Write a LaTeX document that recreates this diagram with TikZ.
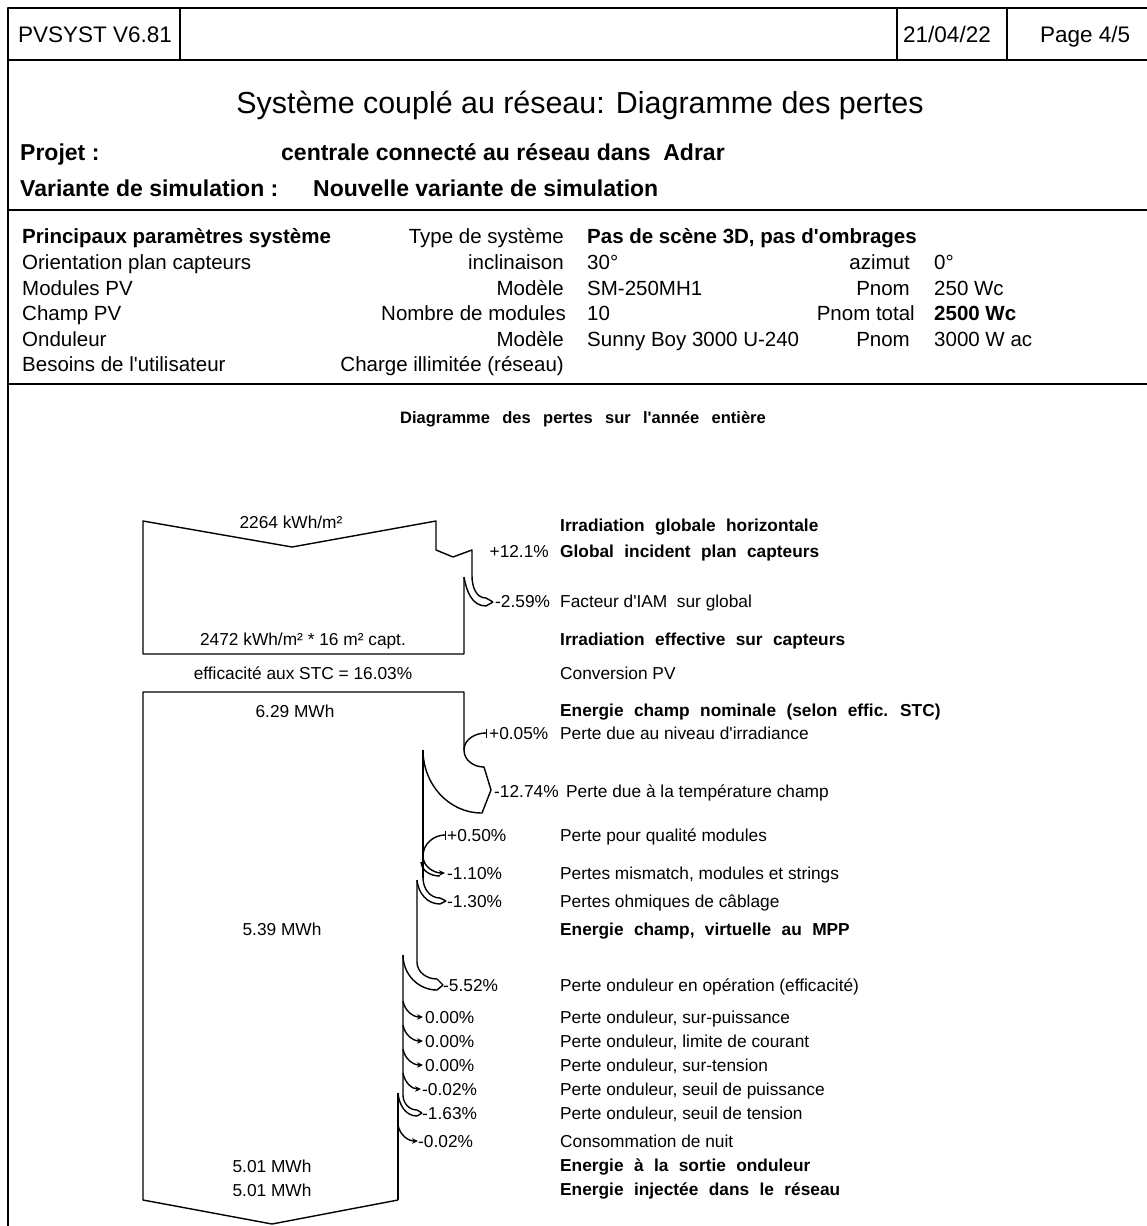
\documentclass[tikz,border=0pt]{standalone}
\usepackage{fontspec}
\setmainfont{Liberation Sans}[Ligatures=TeXOff]
\usetikzlibrary{arrows.meta}

\newcommand{\widesp}{\spaceskip=0.6em plus 0.1em\relax}
\newcommand{\titlesp}{\spaceskip=0.75em\relax}

\begin{document}
\begin{tikzpicture}[x=1pt,y=-1pt,>={Stealth[length=6pt,width=5.5pt]},line join=round,
    every node/.style={inner sep=0pt,text depth=0pt},
    hdr/.style={font=\fontsize{22.5}{26}\selectfont,text height=16.1pt},
    head/.style={font=\fontsize{23}{27}\selectfont\bfseries,text height=16.5pt,anchor=west},
    par/.style={font=\fontsize{20.5}{24}\selectfont,text height=14.7pt},
    bpar/.style={font=\fontsize{20.5}{24}\selectfont\bfseries,text height=14.7pt},
    lbl/.style={font=\fontsize{17.3}{20}\selectfont,text height=12.4pt,anchor=west},
    blbl/.style={font=\fontsize{17.3}{20}\selectfont\bfseries\widesp,text height=12.4pt,anchor=west},
    val/.style={font=\fontsize{17.3}{20}\selectfont,text height=12.4pt},
    rule/.style={line width=2pt},
    flow/.style={line width=1.4pt},
    gain/.style={flow,{Bar[width=9pt]}-}]

  \useasboundingbox (0,0) rectangle (1147,1226);

  % page frame and header
  \draw[rule] (1147,8) -- (8,8) -- (8,1226);
  \draw[rule] (8,60) -- (1147,60);
  \draw[line width=1.2pt] (180,8) -- (180,60) (897,8) -- (897,60) (1007,8) -- (1007,60);
  \draw[rule] (8,210) -- (1147,210);
  \draw[rule] (8,384) -- (1147,384);

  \node[hdr,anchor=west] (soft)  at (18,34)   {PVSYST V6.81};
  \node[hdr,anchor=west] (date)  at (903,34)  {21/04/22};
  \node[hdr,anchor=west] (page)  at (1040,34) {Page 4/5};

  \node[font=\fontsize{30.4}{34}\selectfont,text height=21.8pt] (title) at (580,103)
      {Système couplé au réseau: Diagramme des pertes};
  \node[head] (proj)  at (20,152)  {Projet :};
  \node[head] (projv) at (281,152) {centrale connecté au réseau dans \ Adrar};
  \node[head] (vari)  at (20,188)  {Variante de simulation :};
  \node[head] (variv) at (313,188) {Nouvelle variante de simulation};

  % system parameters
  \node[bpar,anchor=west] (r1a) at (22,236) {Principaux paramètres système};
  \node[par,anchor=east] (r1b) at (564,236) {Type de système};
  \node[bpar,anchor=west] (r1c) at (587,236) {Pas de scène 3D, pas d'ombrages};

  \node[par,anchor=west] (r2a) at (22,262)  {Orientation plan capteurs};
  \node[par,anchor=east] (r2b) at (564,262) {inclinaison};
  \node[par,anchor=west] (r2c) at (587,262) {30°};
  \node[par,anchor=east] (r2d) at (910,262) {azimut};
  \node[par,anchor=west] (r2e) at (934,262) {0°};

  \node[par,anchor=west] (r3a) at (22,288)  {Modules PV};
  \node[par,anchor=east] (r3b) at (564,288) {Modèle};
  \node[par,anchor=west] (r3c) at (587,288) {SM-250MH1};
  \node[par,anchor=east] (r3d) at (910,288) {Pnom};
  \node[par,anchor=west] (r3e) at (934,288) {250 Wc};

  \node[par,anchor=west] (r4a) at (22,313)  {Champ PV};
  \node[par,anchor=east] (r4b) at (566,313) {Nombre de modules};
  \node[par,anchor=west] (r4c) at (587,313) {10};
  \node[par,anchor=east] (r4d) at (915,313) {Pnom total};
  \node[bpar,anchor=west] (r4e) at (934,313) {2500 Wc};

  \node[par,anchor=west] (r5a) at (22,339)  {Onduleur};
  \node[par,anchor=east] (r5b) at (564,339) {Modèle};
  \node[par,anchor=west] (r5c) at (587,339) {Sunny Boy 3000 U-240};
  \node[par,anchor=east] (r5d) at (910,339) {Pnom};
  \node[par,anchor=west] (r5e) at (934,339) {3000 W ac};

  \node[par,anchor=west] (r6a) at (22,364)  {Besoins de l'utilisateur};
  \node[par,anchor=east] (r6b) at (564,364) {Charge illimitée (réseau)};

  % loss diagram
  \node[font=\fontsize{16.5}{20}\selectfont\bfseries\titlesp,text height=11.8pt] (dtitle) at (583,418)
      {Diagramme des pertes sur l'année entière};

  % irradiation box
  \draw[flow] (464,577) -- (464,654) -- (143,654) -- (143,521) -- (292,547) -- (436,521)
      -- (436,550) -- (453,557) -- (472,550) -- (472,576) to[out=-90,in=180] (486,598) -- (493,602);
  \draw[flow] (464,577) to[out=-80,in=180] (486,606) -- (493,602);

  % energy box, right edge
  \draw[flow] (398,1200) -- (272,1224) -- (143,1200) -- (143,692) -- (464,692) -- (464,750);
  \draw[gain] (487,733) to[out=180,in=90] (464,750);
  \draw[flow] (464,750) to[out=-90,in=180] (484,767) -- (491,790);
  \draw[flow] (423,750) to[out=-90,in=180] (482,813) -- (491,790);
  \draw[flow] (423,750) -- (423,878);
  \draw[gain] (446,835) to[out=180,in=90] (423,856);
  \draw[flow,->] (423,856) to[out=-90,in=180] (445,873);
  \draw[flow] (421,862) to[out=-85,in=180] (440,876);
  \draw[flow] (423,878) to[out=-90,in=180] (440,898) -- (446,901);
  \draw[flow] (417,880) to[out=-85,in=180] (440,904) -- (446,901);
  \draw[flow] (417,880) -- (417,962) to[out=-90,in=180] (437,979) -- (443,985);
  \draw[flow] (403,955) to[out=-90,in=180] (437,990) -- (443,985);
  \draw[flow] (403,955) -- (403,1095) to[out=-90,in=180] (417,1110) -- (422,1113);
  \draw[flow] (398,1093) to[out=-85,in=180] (417,1116) -- (422,1113);
  \draw[flow] (398,1093) -- (398,1200);
  \draw[flow,->] (403,1001) to[out=-80,in=180] (423,1017);
  \draw[flow,->] (403,1025) to[out=-80,in=180] (423,1041);
  \draw[flow,->] (403,1049) to[out=-80,in=180] (423,1065);
  \draw[flow,->] (403,1073) to[out=-80,in=180] (421,1089);
  \draw[flow,->] (398,1125) to[out=-80,in=180] (418,1141);

  % values inside the boxes
  \node[val] (ghi)  at (291,522)  {2264 kWh/m²};
  \node[val] (eff)  at (303,639)  {2472 kWh/m² * 16 m² capt.};
  \node[val] (stc)  at (303,673)  {efficacité aux STC = 16.03\%};
  \node[val] (enom) at (295,711)  {6.29 MWh};
  \node[val] (empp) at (282,929)  {5.39 MWh};
  \node[val] (eout) at (272,1166) {5.01 MWh};
  \node[val] (egrid) at (272,1190) {5.01 MWh};

  % percentages
  \node[val,anchor=east] (p1) at (549,551) {+12.1\%};
  \node[lbl] (p2)  at (495,601)  {-2.59\%};
  \node[lbl] (p3)  at (489,733)  {+0.05\%};
  \node[lbl] (p4)  at (494,791)  {-12.74\%};
  \node[lbl] (p5)  at (447,835)  {+0.50\%};
  \node[lbl] (p6)  at (447,873)  {-1.10\%};
  \node[lbl] (p7)  at (447,901)  {-1.30\%};
  \node[lbl] (p8)  at (443,985)  {-5.52\%};
  \node[lbl] (p9)  at (425,1017) {0.00\%};
  \node[lbl] (p10) at (425,1041) {0.00\%};
  \node[lbl] (p11) at (425,1065) {0.00\%};
  \node[lbl] (p12) at (422,1089) {-0.02\%};
  \node[lbl] (p13) at (422,1113) {-1.63\%};
  \node[lbl] (p14) at (418,1141) {-0.02\%};

  % descriptions
  \node[blbl] (d1)  at (560,525)  {Irradiation globale horizontale};
  \node[blbl] (d2)  at (560,551)  {Global incident plan capteurs};
  \node[lbl]  (d3)  at (560,601)  {Facteur d'IAM \ sur global};
  \node[blbl] (d4)  at (560,639)  {Irradiation effective sur capteurs};
  \node[lbl]  (d5)  at (560,673)  {Conversion PV};
  \node[blbl] (d6)  at (560,710)  {Energie champ nominale (selon effic. STC)};
  \node[lbl]  (d7)  at (560,733)  {Perte due au niveau d'irradiance};
  \node[lbl]  (d8)  at (566,791)  {Perte due à la température champ};
  \node[lbl]  (d9)  at (560,835)  {Perte pour qualité modules};
  \node[lbl]  (d10) at (560,873)  {Pertes mismatch, modules et strings};
  \node[lbl]  (d11) at (560,901)  {Pertes ohmiques de câblage};
  \node[blbl] (d12) at (560,929)  {Energie champ, virtuelle au MPP};
  \node[lbl]  (d13) at (560,985)  {Perte onduleur en opération (efficacité)};
  \node[lbl]  (d14) at (560,1017) {Perte onduleur, sur-puissance};
  \node[lbl]  (d15) at (560,1041) {Perte onduleur, limite de courant};
  \node[lbl]  (d16) at (560,1065) {Perte onduleur, sur-tension};
  \node[lbl]  (d17) at (560,1089) {Perte onduleur, seuil de puissance};
  \node[lbl]  (d18) at (560,1113) {Perte onduleur, seuil de tension};
  \node[lbl]  (d19) at (560,1141) {Consommation de nuit};
  \node[blbl] (d20) at (560,1165) {Energie à la sortie onduleur};
  \node[blbl] (d21) at (560,1189) {Energie injectée dans le réseau};
\end{tikzpicture}
\end{document}
